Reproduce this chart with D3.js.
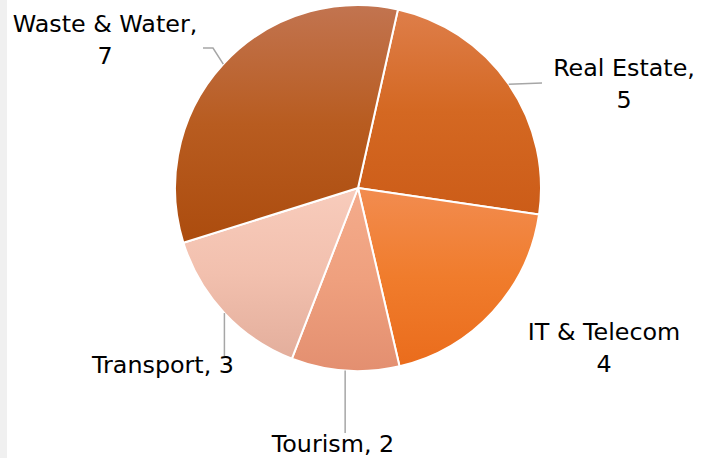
<!DOCTYPE html>
<html>
<head>
<meta charset="utf-8">
<script src="https://cdn.jsdelivr.net/npm/d3@7"></script>
<style>
  body { margin: 0; background: #fff; }
  #chart { position: relative; width: 712px; height: 458px; }
</style>
</head>
<body>
<div id="chart"></div>
<script>
// data, clockwise from the top
const sectors = ["Real Estate", "IT & Telecom", "Tourism", "Transport", "Waste & Water"];
const counts = [5, 4, 2, 3, 7];
const labelLines = [
  ["Real Estate,", "5"],
  ["IT & Telecom", "4"],
  ["Tourism, 2"],
  ["Transport, 3"],
  ["Waste & Water,", "7"]
];
// gradient colours: top, middle, bottom
const topColors = ["#de7e4a", "#f28c50", "#f4ac8c", "#f8ccbc", "#c27450"];
const midColors = ["#d46822", "#f07c2c", "#efa07e", "#f2c0ae", "#b85c20"];
const bottomColors = ["#cc5c18", "#ea6c1c", "#e38f70", "#e3ae9c", "#ac4c0e"];

const width = 712;
const height = 458;
const cx = 358, cy = 188, radius = 183;
const startDeg = 12.6;

// label placement (x centre, first baseline) and leader end
const labelPos = [
  { x: 624, y: 76, leader: [[542, 83]] },
  { x: 604, y: 340, leader: null },
  { x: 333, y: 452, leader: "down", to: 433 },
  { x: 163, y: 373, leader: "down", to: 356 },
  { x: 105, y: 32, leader: [[213, 48], [203, 48]] }
];

const svg = d3.select("#chart")
  .append("svg")
  .attr("width", width)
  .attr("height", height)
  .attr("font-family", "'DejaVu Sans', sans-serif");

// grey strip on the left edge
svg.append("rect").attr("x", 0).attr("y", 0).attr("width", 7).attr("height", height).attr("fill", "#f0f0f0");

const defs = svg.append("defs");
sectors.forEach((s, i) => {
  const g = defs.append("linearGradient")
    .attr("id", "grad" + i)
    .attr("x1", 0).attr("y1", 0).attr("x2", 0).attr("y2", 1);
  g.append("stop").attr("offset", "0%").attr("stop-color", topColors[i]);
  g.append("stop").attr("offset", "50%").attr("stop-color", midColors[i]);
  g.append("stop").attr("offset", "100%").attr("stop-color", bottomColors[i]);
});

const pie = d3.pie()
  .sort(null)
  .startAngle(startDeg * Math.PI / 180)
  .endAngle(startDeg * Math.PI / 180 + 2 * Math.PI);
const arcs = pie(counts);

const arc = d3.arc().innerRadius(0).outerRadius(radius);

const g = svg.append("g").attr("transform", `translate(${cx},${cy})`);

g.selectAll("path")
  .data(arcs)
  .join("path")
  .attr("d", arc)
  .attr("fill", (d, i) => `url(#grad${i})`)
  .attr("stroke", "#fff")
  .attr("stroke-width", 2)
  .attr("stroke-linejoin", "round");

// leader lines start on the rim at the middle angle
function rimPoint(d) {
  const a = (d.startAngle + d.endAngle) / 2;
  return [cx + radius * Math.sin(a), cy - radius * Math.cos(a)];
}

const line = d3.line();
arcs.forEach((d, i) => {
  const p = labelPos[i];
  if (!p.leader) return;
  const start = rimPoint(d);
  let pts;
  if (p.leader === "down") pts = [start, [start[0], p.to]];
  else pts = [start].concat(p.leader);
  svg.append("path")
    .attr("d", line(pts))
    .attr("fill", "none")
    .attr("stroke", "#a6a6a6")
    .attr("stroke-width", 1.5);
});

// labels
labelLines.forEach((lines, i) => {
  const p = labelPos[i];
  const t = svg.append("text")
    .attr("text-anchor", "middle")
    .attr("font-size", 23.8)
    .attr("fill", "#000");
  lines.forEach((s, k) => {
    t.append("tspan").attr("x", p.x).attr("y", p.y + k * 31.5).text(s);
  });
});
</script>
</body>
</html>
